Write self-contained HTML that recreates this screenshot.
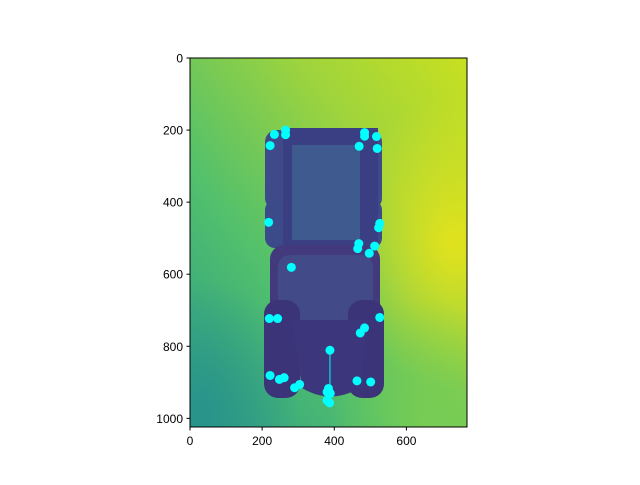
<!DOCTYPE html>
<html><head><meta charset="utf-8"><style>
body{margin:0;background:#fff;width:640px;height:480px;overflow:hidden;font-family:"Liberation Sans",sans-serif}
</style></head><body>
<svg width="640" height="480" viewBox="0 0 640 480">
<defs>
<linearGradient id="bg" x1="0" y1="1" x2="1" y2="0">
<stop offset="0" stop-color="#2c9c88"/><stop offset="0.35" stop-color="#52c06c"/><stop offset="0.7" stop-color="#9fd43c"/><stop offset="1" stop-color="#c8e020"/></linearGradient>
<radialGradient id="hl" cx="0.95" cy="0.5" r="0.4"><stop offset="0" stop-color="#e8e419" stop-opacity="0.9"/><stop offset="1" stop-color="#e8e419" stop-opacity="0"/></radialGradient>
<radialGradient id="dk" cx="0.05" cy="0.95" r="0.35"><stop offset="0" stop-color="#26908c" stop-opacity="0.8"/><stop offset="1" stop-color="#26908c" stop-opacity="0"/></radialGradient>
<radialGradient id="br" cx="0.85" cy="1" r="0.35"><stop offset="0" stop-color="#7ccf50" stop-opacity="0.8"/><stop offset="1" stop-color="#7ccf50" stop-opacity="0"/></radialGradient>
<clipPath id="ax"><rect x="190" y="58" width="277" height="369"/></clipPath>
</defs>
<g clip-path="url(#ax)">
<rect x="190" y="58" width="277" height="369" fill="url(#bg)"/>
<rect x="190" y="58" width="277" height="369" fill="url(#hl)"/>
<rect x="190" y="58" width="277" height="369" fill="url(#dk)"/>
<rect x="190" y="58" width="277" height="369" fill="url(#br)"/>
<g>
<rect x="265" y="130" width="117" height="80" rx="12" fill="#3e4a89"/>
<rect x="265" y="200" width="117" height="48" rx="10" fill="#3b4b8a"/>
<rect x="283" y="128" width="95" height="120" fill="#3a3f83"/>
<rect x="292" y="145" width="68" height="95" fill="#3f5a8e"/>
<rect x="270" y="245" width="110" height="88" rx="14" fill="#433a7e"/>
<rect x="278" y="255" width="95" height="72" rx="12" fill="#424b88"/>
<rect x="264" y="300" width="36" height="98" rx="14" fill="#3b3479"/>
<rect x="348" y="300" width="36" height="98" rx="14" fill="#3b3479"/>
<path d="M292 320 L368 320 L360 388 Q330 405 302 388 Z" fill="#3c377c"/>
</g>
</g>
<rect x="190" y="58" width="277" height="369" fill="none" stroke="#000" stroke-width="1"/>
<g id="ticks" font-size="12" fill="#000"></g>
<line id="stem" stroke="#00ffff" stroke-width="1"/>
<g id="pts"></g>
</svg>
<script>
const xs=[234,265,265,222,484,484,517,469,519,218,526,523,468,465,512,497,281,220,243,526,484,472,388,222,248,261,290,304,463,501,384,380,389,380,387];
const ys=[212,200,213,243,207,217,218,245,251,456,459,471,515,529,522,542,581,723,723,720,749,763,811,881,892,887,915,906,896,899,917,927,931,950,957];
const xTicks=[0,200,400,600];
const yTicks=[0,200,400,600,800,1000];
const X=v=>190+v*277/768, Y=v=>58+v*369/1024;
const ns="http://www.w3.org/2000/svg";
const g=document.getElementById('pts');
xs.forEach((x,i)=>{const c=document.createElementNS(ns,'circle');
c.setAttribute('cx',X(x));c.setAttribute('cy',Y(ys[i]));c.setAttribute('r',4.5);c.setAttribute('fill','#00ffff');


g.appendChild(c);});
const s=document.getElementById('stem');
s.setAttribute('x1',X(388));s.setAttribute('y1',Y(811));s.setAttribute('x2',X(388));s.setAttribute('y2',Y(931));
const t=document.getElementById('ticks');
xTicks.forEach(v=>{const l=document.createElementNS(ns,'line');l.setAttribute('x1',X(v));l.setAttribute('x2',X(v));l.setAttribute('y1',427);l.setAttribute('y2',430.5);l.setAttribute('stroke','#000');


t.appendChild(l);
const tx=document.createElementNS(ns,'text');tx.setAttribute('x',X(v));tx.setAttribute('y',445);tx.setAttribute('text-anchor','middle');tx.textContent=v;


t.appendChild(tx);});
yTicks.forEach(v=>{const l=document.createElementNS(ns,'line');l.setAttribute('x1',186.5);l.setAttribute('x2',190);l.setAttribute('y1',Y(v));l.setAttribute('y2',Y(v));l.setAttribute('stroke','#000');


t.appendChild(l);
const tx=document.createElementNS(ns,'text');tx.setAttribute('x',183);tx.setAttribute('y',Y(v)+4.5);tx.setAttribute('text-anchor','end');tx.textContent=v;


t.appendChild(tx);});
</script>
</body></html>
